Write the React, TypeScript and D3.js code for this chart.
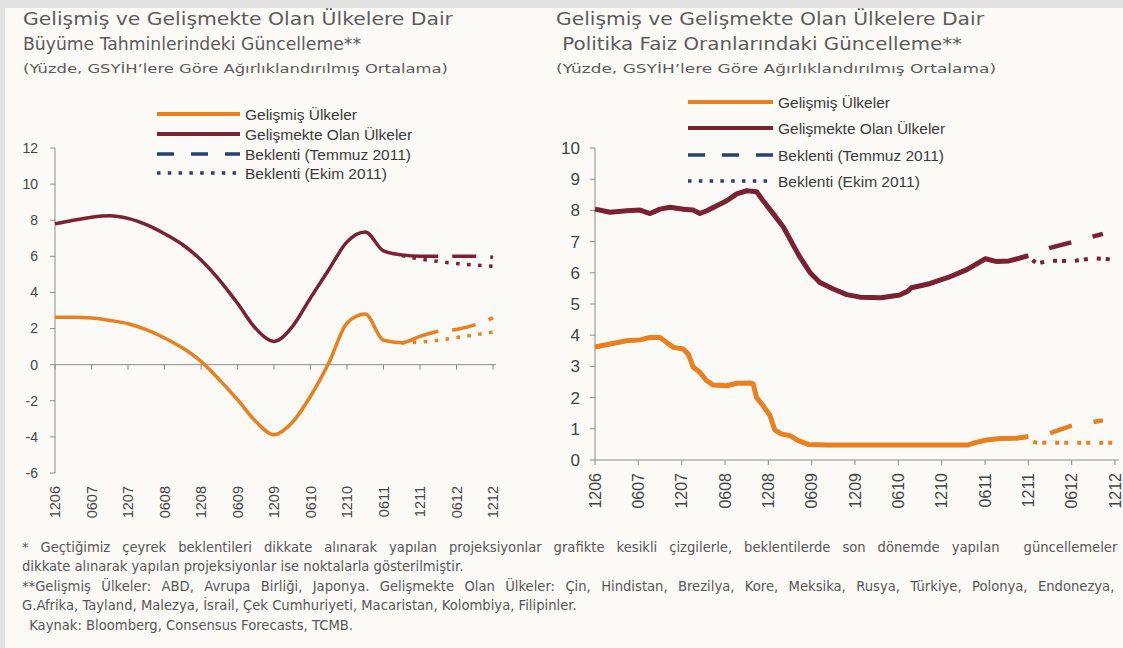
import React, { useLayoutEffect, useRef, useState } from "react";
import * as d3 from "d3";

// ---------- shared ----------
const halfYearLabels = ["1206", "0607", "1207", "0608", "1208", "0609", "1209", "0610", "1210", "0611", "1211", "0612", "1212"];

// ---------- left chart: growth (quarter index 0 = Dec 2006) ----------
const growthDeveloped = [2.62, 2.62, 2.58, 2.45, 2.27, 1.94, 1.48, 0.92, 0.18, -0.83, -1.94, -3.14, -3.88, -3.2, -1.75, 0.09, 2.3, 2.8, 1.35, 1.22, 1.57, 1.85];
const growthDeveloping = [7.8, 8.0, 8.17, 8.25, 8.1, 7.75, 7.25, 6.64, 5.8, 4.7, 3.4, 2.0, 1.29, 2.1, 3.7, 5.26, 6.8, 7.35, 6.3, 6.08, 6.0, 6.0];
const growthJulStart = 21;
const growthDevelopedJul = [1.85, 1.95, 2.2, 2.6];
const growthDevelopingJul = [6.0, 6.0, 6.0, 5.95];
const growthOctStart = 19;
const growthDevelopedOct = [1.2, 1.25, 1.35, 1.5, 1.65, 1.8];
const growthDevelopingOct = [6.05, 5.85, 5.72, 5.6, 5.52, 5.45];
const growthTicks = [-6, -4, -2, 0, 2, 4, 6, 8, 10, 12];

// ---------- right chart: policy rates (x = half-years since Dec 2006) ----------
const rateDevelopedT = [0, 0.35, 0.73, 1.04, 1.27, 1.5, 1.65, 1.81, 2.04, 2.15, 2.27, 2.42, 2.58, 2.73, 3.04, 3.27, 3.58, 3.65, 3.73, 3.88, 4.04, 4.15, 4.31, 4.5, 4.69, 4.92, 5.35, 8.6, 8.75, 9.04, 9.35, 9.73, 10];
const rateDevelopedV = [3.62, 3.72, 3.82, 3.85, 3.93, 3.93, 3.77, 3.61, 3.56, 3.4, 2.97, 2.81, 2.54, 2.4, 2.38, 2.46, 2.47, 2.44, 2.0, 1.74, 1.42, 0.96, 0.83, 0.78, 0.62, 0.5, 0.48, 0.48, 0.55, 0.64, 0.69, 0.7, 0.75];
const rateDevelopingT = [0, 0.35, 0.73, 1.04, 1.27, 1.5, 1.73, 2.04, 2.27, 2.42, 2.58, 2.81, 3.04, 3.27, 3.5, 3.73, 3.88, 4.12, 4.35, 4.58, 4.73, 4.96, 5.19, 5.5, 5.81, 6.12, 6.6, 7.03, 7.2, 7.3, 7.72, 8.15, 8.58, 9.01, 9.27, 9.55, 9.8, 10];
const rateDevelopingV = [8.04, 7.94, 7.99, 8.01, 7.9, 8.04, 8.1, 8.04, 8.01, 7.9, 7.99, 8.15, 8.31, 8.53, 8.63, 8.6, 8.31, 7.88, 7.46, 6.87, 6.5, 6.01, 5.69, 5.48, 5.3, 5.22, 5.2, 5.29, 5.4, 5.52, 5.65, 5.85, 6.1, 6.45, 6.36, 6.38, 6.47, 6.55];
const rateJulT = [10, 10.5, 11, 11.72];
const rateDevelopedJul = [0.75, 0.86, 1.1, 1.27];
const rateDevelopingJul = [6.55, 6.8, 6.98, 7.25];
const rateOctT = [10, 10.2, 10.5, 11, 11.5, 12];
const rateDevelopedOct = [0.6, 0.56, 0.55, 0.55, 0.55, 0.55];
const rateDevelopingOct = [6.5, 6.3, 6.39, 6.37, 6.47, 6.42];
const rateTicks = [0, 1, 2, 3, 4, 5, 6, 7, 8, 9, 10];

// ---------- text ----------
const titleLeft = ["Gelişmiş ve Gelişmekte Olan Ülkelere Dair", "Büyüme Tahminlerindeki Güncelleme**", "(Yüzde, GSYİH’lere Göre Ağırlıklandırılmış Ortalama)"];
const titleRight = ["Gelişmiş ve Gelişmekte Olan Ülkelere Dair", " Politika Faiz Oranlarındaki Güncelleme**", "(Yüzde, GSYİH’lere Göre Ağırlıklandırılmış Ortalama)"];
const legendLabels = ["Gelişmiş Ülkeler", "Gelişmekte Olan Ülkeler", "Beklenti (Temmuz 2011)", "Beklenti (Ekim 2011)"];
const footnotes = [
  "* Geçtiğimiz çeyrek beklentileri dikkate alınarak yapılan projeksiyonlar grafikte kesikli çizgilerle, beklentilerde son dönemde yapılan  güncellemeler",
  "dikkate alınarak yapılan projeksiyonlar ise noktalarla gösterilmiştir.",
  "**Gelişmiş Ülkeler: ABD, Avrupa Birliği, Japonya. Gelişmekte Olan Ülkeler: Çin, Hindistan, Brezilya, Kore, Meksika, Rusya, Türkiye, Polonya, Endonezya,",
  "G.Afrika, Tayland, Malezya, İsrail, Çek Cumhuriyeti, Macaristan, Kolombiya, Filipinler.",
  " Kaynak: Bloomberg, Consensus Forecasts, TCMB.",
];

// ---------- styles ----------
const ORANGE = "#e8801f";
const MAROON = "#7a2134";
const NAVY = "#27426e";
const AXIS = "#8c8c8c";
const TITLE_FONT = "'DejaVu Sans', sans-serif";
const LABEL_FONT = "'Liberation Sans', Arial, sans-serif";

const W = 1123;
const H = 648;

function Legend({ x1, x2, rows }: { x1: number; x2: number; rows: number[] }) {
  const styles = [
    { stroke: ORANGE, dash: undefined as string | undefined, w: 4 },
    { stroke: MAROON, dash: undefined, w: 4 },
    { stroke: NAVY, dash: "17,17", w: 3.5 },
    { stroke: NAVY, dash: "3.5,7.3", w: 3.5 },
  ];
  return (
    <g>
      {legendLabels.map((lab, i) => (
        <g key={lab}>
          <line x1={x1} x2={x2} y1={rows[i]} y2={rows[i]} stroke={styles[i].stroke} strokeWidth={styles[i].w} strokeDasharray={styles[i].dash} />
          <text x={x2 + 5} y={rows[i]} dy="0.36em" fontFamily={LABEL_FONT} fontSize={15.5} fill="#3a3a3a">
            {lab}
          </text>
        </g>
      ))}
    </g>
  );
}

function Title({ x, lines, widths }: { x: number; lines: string[]; widths: number[] }) {
  const ys = [25, 50, 73];
  return (
    <g fontFamily={TITLE_FONT} fill="#5b5b5b">
      {lines.map((l, i) => (
        <text key={i} x={x} y={ys[i]} fontSize={i < 2 ? 17 : 12.5} textLength={widths[i]} lengthAdjust="spacingAndGlyphs" style={{ whiteSpace: "pre" }}>
          {l}
        </text>
      ))}
    </g>
  );
}

function GrowthChart() {
  const x = d3.scaleLinear().domain([0, 24]).range([55, 493]);
  const y = d3.scaleLinear().domain([-6, 12]).range([473, 148]);
  const line = d3
    .line<[number, number]>()
    .x((d) => x(d[0]))
    .y((d) => y(d[1]))
    .curve(d3.curveMonotoneX);
  const pts = (vals: number[], start: number) => vals.map((v, i) => [start + i, v] as [number, number]);
  const xTicks = halfYearLabels.map((_, i) => i * 2);
  return (
    <g>
      <line x1={x(0)} x2={x(0)} y1={y(12)} y2={y(-6)} stroke={AXIS} />
      {growthTicks.map((t) => (
        <g key={t}>
          <line x1={x(0) - 5} x2={x(0)} y1={y(t)} y2={y(t)} stroke={AXIS} />
          <text x={x(0) - 17} y={y(t)} dy="0.35em" textAnchor="end" fontFamily={LABEL_FONT} fontSize={14} fill="#444">
            {t}
          </text>
        </g>
      ))}
      <line x1={x(0)} x2={x(24) + 3} y1={y(0)} y2={y(0)} stroke={AXIS} />
      {xTicks.map((q, i) => (
        <g key={q}>
          <line x1={x(q)} x2={x(q)} y1={y(0)} y2={y(0) + 5} stroke={AXIS} />
          <text transform={`translate(${x(q)},486) rotate(-90)`} dy="0.36em" textAnchor="end" fontFamily={LABEL_FONT} fontSize={14.5} fill="#444">
            {halfYearLabels[i]}
          </text>
        </g>
      ))}
      <path d={line(pts(growthDevelopedOct, growthOctStart)) || ""} fill="none" stroke={ORANGE} strokeWidth={3.5} strokeDasharray="3.5,7.5" />
      <path d={line(pts(growthDevelopingOct, growthOctStart)) || ""} fill="none" stroke={MAROON} strokeWidth={3.5} strokeDasharray="3.5,7.5" />
      <path d={line(pts(growthDevelopedJul, growthJulStart)) || ""} fill="none" stroke={ORANGE} strokeWidth={3.5} strokeDasharray="24,14" strokeDashoffset={24} />
      <path d={line(pts(growthDevelopingJul, growthJulStart)) || ""} fill="none" stroke={MAROON} strokeWidth={3.5} strokeDasharray="24,14" strokeDashoffset={24} />
      <path d={line(pts(growthDeveloped, 0)) || ""} fill="none" stroke={ORANGE} strokeWidth={3.5} />
      <path d={line(pts(growthDeveloping, 0)) || ""} fill="none" stroke={MAROON} strokeWidth={3.5} />
    </g>
  );
}

function RateChart() {
  const x = d3.scaleLinear().domain([0, 12]).range([595, 1115]);
  const y = d3.scaleLinear().domain([0, 10]).range([460, 148]);
  const line = d3
    .line<[number, number]>()
    .x((d) => x(d[0]))
    .y((d) => y(d[1]));
  const zip = (ts: number[], vs: number[]) => ts.map((t, i) => [t, vs[i]] as [number, number]);
  return (
    <g>
      <line x1={x(0)} x2={x(0)} y1={y(10)} y2={y(0)} stroke={AXIS} />
      {rateTicks.map((t) => (
        <g key={t}>
          <line x1={x(0) - 5} x2={x(0)} y1={y(t)} y2={y(t)} stroke={AXIS} />
          <text x={x(0) - 15} y={y(t)} dy="0.35em" textAnchor="end" fontFamily={LABEL_FONT} fontSize={17} fill="#444">
            {t}
          </text>
        </g>
      ))}
      <line x1={x(0)} x2={x(12) + 4} y1={y(0)} y2={y(0)} stroke={AXIS} />
      {halfYearLabels.map((lab, i) => (
        <g key={lab + i}>
          <line x1={x(i)} x2={x(i)} y1={y(0)} y2={y(0) + 5} stroke={AXIS} />
          <text transform={`translate(${x(i)},473) rotate(-90)`} dy="0.36em" textAnchor="end" fontFamily={LABEL_FONT} fontSize={16} fill="#444">
            {lab}
          </text>
        </g>
      ))}
      <path d={line(zip(rateOctT, rateDevelopedOct)) || ""} fill="none" stroke={ORANGE} strokeWidth={4} strokeDasharray="4,5,4,9" strokeDashoffset={17} />
      <path d={line(zip(rateOctT, rateDevelopingOct)) || ""} fill="none" stroke={MAROON} strokeWidth={4} strokeDasharray="4,5,4,9" strokeDashoffset={17} />
      <path d={line(zip(rateJulT, rateDevelopedJul)) || ""} fill="none" stroke={ORANGE} strokeWidth={4.5} strokeDasharray="23,22" strokeDashoffset={23} />
      <path d={line(zip(rateJulT, rateDevelopingJul)) || ""} fill="none" stroke={MAROON} strokeWidth={4.5} strokeDasharray="23,22" strokeDashoffset={23} />
      <path d={line(zip(rateDevelopedT, rateDevelopedV)) || ""} fill="none" stroke={ORANGE} strokeWidth={5} strokeLinejoin="round" />
      <path d={line(zip(rateDevelopingT, rateDevelopingV)) || ""} fill="none" stroke={MAROON} strokeWidth={5} strokeLinejoin="round" />
    </g>
  );
}

// Footnotes: lines 1 and 3 are justified to the full width; the rest run naturally.
function Footnotes() {
  const footY = [552, 571, 591, 610, 630];
  const footX = [22, 22, 22, 22, 25];
  const justifyTo = [1096, 0, 1093, 0, 0];
  const refLine = 3;
  const refWidth = 555;
  const baseSize = 10;
  const refs = useRef<(SVGTextElement | null)[]>([]);
  const [layout, setLayout] = useState<{ fs: number; ws: number[] } | null>(null);
  useLayoutEffect(() => {
    const natural = refs.current.map((el) => (el ? el.getComputedTextLength() : 0));
    if (!natural[refLine]) return;
    const fs = (baseSize * refWidth) / natural[refLine];
    const ws = footnotes.map((f, i) => {
      if (!justifyTo[i]) return 0;
      const spaces = (f.trim().match(/ /g) || []).length;
      const w = (natural[i] * fs) / baseSize;
      return spaces ? Math.max(0, (justifyTo[i] - w) / spaces) : 0;
    });
    setLayout({ fs, ws });
  }, []);
  return (
    <g fontFamily={TITLE_FONT} fill="#575757">
      {footnotes.map((f, i) => (
        <text
          key={i}
          ref={(el) => {
            refs.current[i] = el;
          }}
          x={footX[i]}
          y={footY[i]}
          fontSize={layout ? layout.fs : baseSize}
          style={{ whiteSpace: "pre", wordSpacing: layout ? `${layout.ws[i]}px` : "0px" }}
        >
          {f}
        </text>
      ))}
    </g>
  );
}

export default function App() {
  return (
    <svg width={W} height={H} style={{ position: "absolute", left: 0, top: 0, display: "block" }}>
      <rect x={0} y={0} width={W} height={H} fill="#fbfaf7" />
      <rect x={0} y={0} width={W} height={8} fill="#e2e2e2" />
      <rect x={0} y={0} width={5} height={H} fill="#e2e2e2" />
      <Title x={23} lines={titleLeft} widths={[430, 338, 425]} />
      <Title x={556} lines={titleRight} widths={[428, 406, 440]} />
      <Legend x1={157} x2={240} rows={[114, 134, 154, 173]} />
      <Legend x1={688} x2={773} rows={[102, 128, 155, 181]} />
      <GrowthChart />
      <RateChart />
      <Footnotes />
    </svg>
  );
}
